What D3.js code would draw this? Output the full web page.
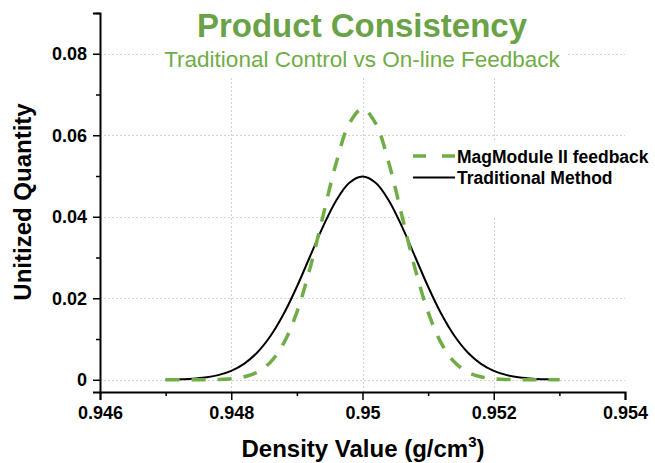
<!DOCTYPE html>
<html>
<head>
<meta charset="utf-8">
<script src="https://cdn.jsdelivr.net/npm/d3@7/dist/d3.min.js"></script>
<style>
  html, body { margin: 0; padding: 0; background: #fff; }
  svg { display: block; }
  text { font-family: "Liberation Sans", Arial, Helvetica, sans-serif; }
</style>
</head>
<body>
<svg id="chart" width="655" height="463"></svg>
<script>
// ---- data ----
const densityValues = [0.9470,0.9472,0.9474,0.9476,0.9478,0.9480,0.9482,0.9484,0.9486,0.9488,
  0.9490,0.9492,0.9494,0.9496,0.9498,0.9500,0.9502,0.9504,0.9506,0.9508,
  0.9510,0.9512,0.9514,0.9516,0.9518,0.9520,0.9522,0.9524,0.9526,0.9528,0.9530];
const traditionalMethod = [0.00004,0.00011,0.00025,0.00055,0.00114,0.00219,0.00397,0.00675,0.01079,0.01619,
  0.02283,0.03025,0.03764,0.04401,0.04834,0.04987,0.04834,0.04401,0.03764,0.03025,
  0.02283,0.01619,0.01079,0.00675,0.00397,0.00219,0.00114,0.00055,0.00025,0.00011,0.00004];
const magModuleFeedback = [0.00000,0.00000,0.00000,0.00002,0.00008,0.00026,0.00074,0.00190,0.00437,0.00900,
  0.01658,0.02733,0.04033,0.05324,0.06290,0.06649,0.06290,0.05324,0.04033,0.02733,
  0.01658,0.00900,0.00437,0.00190,0.00074,0.00026,0.00008,0.00002,0.00000,0.00000,0.00000];
const xTicks = [0.946, 0.948, 0.950, 0.952, 0.954];
const xTickLabels = ["0.946", "0.948", "0.95", "0.952", "0.954"];
const xMinorTicks = [0.947, 0.949, 0.951, 0.953];
const yTicks = [0, 0.02, 0.04, 0.06, 0.08];
const yTickLabels = ["0", "0.02", "0.04", "0.06", "0.08"];
const yMinorTicks = [0.01, 0.03, 0.05, 0.07, 0.09];
const xGridTicks = [0.948, 0.950, 0.952];
const seriesNames = ["MagModule II feedback", "Traditional Method"];

// ---- layout ----
const green = "#70ad47";
const titleGreen = "#6aa346";
const svg = d3.select("#chart");
const x = d3.scaleLinear().domain([0.946, 0.954]).range([100, 625]);
const y = d3.scaleLinear().domain([-0.003, 0.09]).range([392, 13]);

// gridlines
const grid = svg.append("g").attr("stroke", "#d4d4d4").attr("stroke-width", 1).attr("stroke-dasharray", "2,2");
grid.selectAll("line.h").data(yTicks).join("line")
  .attr("x1", x(0.946)).attr("x2", x(0.954))
  .attr("y1", d => Math.round(y(d)) + 0.5).attr("y2", d => Math.round(y(d)) + 0.5);
grid.selectAll("line.v").data(xGridTicks).join("line")
  .attr("x1", d => Math.round(x(d)) + 0.5).attr("x2", d => Math.round(x(d)) + 0.5)
  .attr("y1", y(-0.003)).attr("y2", y(0.09));

// white boxes behind title and legend
svg.append("rect").attr("x", 158).attr("y", 0).attr("width", 410).attr("height", 76).attr("fill", "#fff");
svg.append("rect").attr("x", 410).attr("y", 140).attr("width", 245).attr("height", 78).attr("fill", "#fff");

// curves
const line = d3.line().curve(d3.curveCatmullRom.alpha(0.5))
  .x((d, i) => x(densityValues[i])).y(d => y(d));
svg.append("path").datum(traditionalMethod).attr("d", line)
  .attr("fill", "none").attr("stroke", "#000").attr("stroke-width", 2);
svg.append("path").datum(magModuleFeedback).attr("d", line)
  .attr("fill", "none").attr("stroke", green).attr("stroke-width", 3.5)
  .attr("stroke-dasharray", "14,12");

// axes
const axisFont = "bold 18px 'Liberation Sans', Arial, sans-serif";
svg.append("g").attr("transform", `translate(0,${y(-0.003)})`)
  .call(d3.axisBottom(x).tickValues(xTicks).tickSize(8).tickPadding(6)
    .tickFormat((d, i) => xTickLabels[i]));
svg.append("g").attr("transform", `translate(0,${y(-0.003)})`)
  .call(d3.axisBottom(x).tickValues(xMinorTicks).tickSize(4).tickFormat(""))
  .call(g => g.select(".domain").remove());
svg.append("g").attr("transform", `translate(${x(0.946)},0)`)
  .call(d3.axisLeft(y).tickValues(yTicks).tickSize(7).tickPadding(6)
    .tickFormat((d, i) => yTickLabels[i]));
svg.append("g").attr("transform", `translate(${x(0.946)},0)`)
  .call(d3.axisLeft(y).tickValues(yMinorTicks).tickSize(4).tickFormat(""))
  .call(g => g.select(".domain").remove());
svg.selectAll(".domain").attr("stroke-width", 2).attr("stroke", "#000");
svg.selectAll(".tick line").attr("stroke-width", 1.5).attr("stroke", "#000");
svg.selectAll(".tick text").style("font", axisFont).attr("fill", "#000");

// axis titles
svg.append("text").attr("x", 363).attr("y", 457).attr("text-anchor", "middle")
  .style("font-size", "24px").style("font-weight", "bold").attr("fill", "#000")
  .call(t => {
    t.append("tspan").text("Density Value (g/cm");
    t.append("tspan").text("3").style("font-size", "15px").attr("dy", -10);
    t.append("tspan").text(")").attr("dy", 10);
  });
svg.append("text").attr("transform", "translate(31,202) rotate(-90)").attr("text-anchor", "middle")
  .style("font-size", "24px").style("font-weight", "bold").attr("fill", "#000")
  .text("Unitized Quantity");

// titles
svg.append("text").attr("x", 362).attr("y", 37).attr("text-anchor", "middle")
  .style("font-size", "33px").style("font-weight", "bold").attr("fill", titleGreen)
  .text("Product Consistency");
svg.append("text").attr("x", 362).attr("y", 67).attr("text-anchor", "middle")
  .style("font-size", "22.5px").attr("fill", green)
  .text("Traditional Control vs On-line Feedback");

// legend
const legend = svg.append("g");
legend.append("line").attr("x1", 413).attr("x2", 455).attr("y1", 156).attr("y2", 156)
  .attr("stroke", green).attr("stroke-width", 3.5).attr("stroke-dasharray", "13,16");
legend.append("line").attr("x1", 413).attr("x2", 455).attr("y1", 177.5).attr("y2", 177.5)
  .attr("stroke", "#000").attr("stroke-width", 2);
legend.selectAll("text").data(seriesNames).join("text")
  .attr("x", 457).attr("y", (d, i) => 162.5 + i * 21)
  .style("font-size", "17.5px").style("font-weight", "bold").attr("fill", "#000")
  .text(d => d);
</script>
</body>
</html>
